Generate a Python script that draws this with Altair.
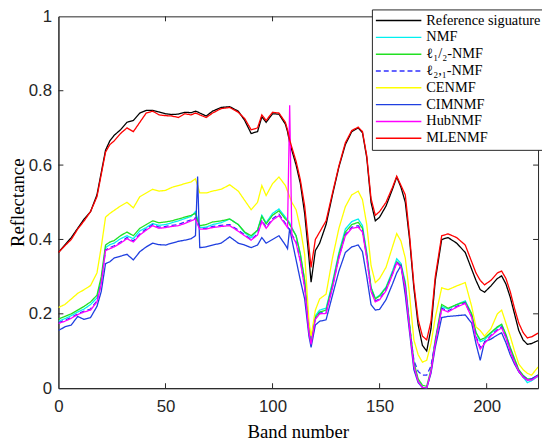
import altair as alt
import pandas as pd

bands = [0, 3, 6, 9, 12, 15, 18, 20, 22, 24,
         26, 29, 32, 35, 38, 41, 44, 47, 50, 53,
         56, 59, 62, 64, 65, 66, 69, 72, 76, 80,
         84, 87, 90, 93, 95, 97, 100, 103, 106, 107,
         108, 109, 111, 113, 115, 117, 118, 120, 122, 125,
         128, 131, 134, 137, 140, 142, 144, 146, 148, 150,
         153, 156, 158, 160, 162, 164, 166, 168, 170, 172,
         174, 176, 179, 182, 186, 190, 193, 195, 197, 199,
         202, 205, 207, 209, 211, 213, 215, 217, 219, 221,
         224]

reference = [0.365, 0.385, 0.405, 0.43, 0.455, 0.475, 0.52, 0.58, 0.64, 0.665,
             0.68, 0.695, 0.715, 0.72, 0.74, 0.747, 0.747, 0.743, 0.738, 0.736,
             0.737, 0.742, 0.741, 0.745, 0.743, 0.74, 0.732, 0.745, 0.755, 0.757,
             0.745, 0.72, 0.685, 0.69, 0.73, 0.715, 0.738, 0.737, 0.71, 0.69,
             0.66, 0.64, 0.6, 0.55, 0.47, 0.35, 0.285, 0.37, 0.39, 0.44,
             0.52, 0.595, 0.655, 0.69, 0.7, 0.687, 0.62, 0.5, 0.45, 0.46,
             0.49, 0.535, 0.568, 0.54, 0.5, 0.4, 0.27, 0.17, 0.115, 0.1,
             0.16, 0.29, 0.4, 0.405, 0.39, 0.365, 0.32, 0.29, 0.265, 0.258,
             0.275, 0.295, 0.302, 0.28, 0.245, 0.2, 0.155, 0.13, 0.118, 0.12,
             0.128]

nmf = [0.18, 0.187, 0.195, 0.205, 0.213, 0.225, 0.243, 0.29, 0.378, 0.386,
       0.39, 0.402, 0.41, 0.402, 0.423, 0.432, 0.443, 0.438, 0.44, 0.445,
       0.45, 0.456, 0.462, 0.475, 0.455, 0.432, 0.433, 0.44, 0.445, 0.455,
       0.44, 0.418, 0.405, 0.425, 0.465, 0.445, 0.47, 0.482, 0.46, 0.452,
       0.445, 0.432, 0.41, 0.36, 0.29, 0.16, 0.125, 0.195, 0.21, 0.215,
       0.285, 0.365, 0.428, 0.448, 0.455, 0.437, 0.365, 0.272, 0.242, 0.25,
       0.272, 0.315, 0.348, 0.335, 0.285, 0.17, 0.065, 0.02, 0.003, 0.0,
       0.045, 0.125, 0.22, 0.213, 0.225, 0.235, 0.2, 0.15, 0.125, 0.13,
       0.148, 0.163, 0.17, 0.142, 0.108, 0.075, 0.045, 0.03, 0.015, 0.02,
       0.032]

l12 = [0.186, 0.193, 0.2, 0.21, 0.22, 0.232, 0.25, 0.3, 0.385, 0.393,
       0.397, 0.41, 0.42, 0.41, 0.43, 0.44, 0.45, 0.445, 0.447, 0.45,
       0.455, 0.46, 0.465, 0.47, 0.45, 0.437, 0.44, 0.447, 0.45, 0.455,
       0.44, 0.42, 0.41, 0.425, 0.462, 0.442, 0.465, 0.477, 0.455, 0.45,
       0.44, 0.43, 0.41, 0.36, 0.29, 0.16, 0.122, 0.19, 0.205, 0.21,
       0.28, 0.36, 0.42, 0.44, 0.446, 0.43, 0.36, 0.27, 0.24, 0.248,
       0.27, 0.31, 0.34, 0.33, 0.28, 0.17, 0.07, 0.025, 0.008, 0.005,
       0.05, 0.13, 0.225, 0.215, 0.225, 0.232, 0.2, 0.15, 0.13, 0.135,
       0.15, 0.165, 0.172, 0.145, 0.11, 0.08, 0.05, 0.035, 0.025, 0.025,
       0.035]

l21 = [0.176, 0.183, 0.19, 0.2, 0.207, 0.213, 0.235, 0.283, 0.372, 0.378,
       0.383, 0.393, 0.405, 0.396, 0.415, 0.428, 0.44, 0.433, 0.435, 0.438,
       0.44, 0.447, 0.453, 0.458, 0.443, 0.43, 0.43, 0.435, 0.438, 0.44,
       0.425, 0.412, 0.4, 0.415, 0.452, 0.433, 0.456, 0.468, 0.443, 0.435,
       0.425, 0.414, 0.393, 0.343, 0.273, 0.152, 0.12, 0.187, 0.202, 0.204,
       0.273, 0.353, 0.413, 0.433, 0.437, 0.423, 0.353, 0.262, 0.235, 0.24,
       0.265, 0.308, 0.34, 0.327, 0.273, 0.165, 0.075, 0.045, 0.035, 0.035,
       0.06, 0.125, 0.215, 0.208, 0.22, 0.23, 0.192, 0.14, 0.11, 0.122,
       0.142, 0.158, 0.165, 0.138, 0.103, 0.072, 0.047, 0.032, 0.024, 0.024,
       0.035]

cenmf = [0.217, 0.225, 0.24, 0.255, 0.265, 0.276, 0.31, 0.38, 0.46, 0.47,
         0.478, 0.49, 0.5, 0.485, 0.515, 0.525, 0.535, 0.53, 0.532, 0.54,
         0.545, 0.55, 0.555, 0.563, 0.545, 0.525, 0.525, 0.53, 0.535, 0.547,
         0.53, 0.505, 0.48, 0.5, 0.545, 0.518, 0.55, 0.568, 0.545, 0.53,
         0.515, 0.5, 0.48, 0.43, 0.36, 0.18, 0.14, 0.21, 0.24, 0.253,
         0.35, 0.43, 0.488, 0.52, 0.53, 0.507, 0.44, 0.33, 0.284, 0.295,
         0.325, 0.38, 0.416, 0.395, 0.35, 0.25, 0.13, 0.09, 0.07, 0.075,
         0.12, 0.19, 0.27, 0.265, 0.275, 0.284, 0.22, 0.165, 0.155, 0.14,
         0.16, 0.2, 0.21, 0.175, 0.14, 0.1, 0.065, 0.05, 0.04, 0.035,
         0.057]

cimnmf = [0.155, 0.165, 0.17, 0.193, 0.185, 0.19, 0.22, 0.26, 0.335, 0.34,
          0.35, 0.355, 0.36, 0.345, 0.367, 0.38, 0.39, 0.386, 0.385, 0.39,
          0.395, 0.398, 0.402, 0.41, 0.569, 0.378, 0.38, 0.385, 0.39, 0.407,
          0.39, 0.385, 0.378, 0.385, 0.405, 0.39, 0.4, 0.41, 0.385, 0.375,
          0.43, 0.4, 0.345, 0.29, 0.24, 0.14, 0.11, 0.17, 0.18, 0.184,
          0.25, 0.315, 0.365, 0.38, 0.385, 0.367, 0.3, 0.225, 0.21, 0.212,
          0.238, 0.28, 0.31, 0.33, 0.25, 0.15, 0.05, 0.015, 0.002, 0.0,
          0.04, 0.11, 0.19, 0.193, 0.195, 0.197, 0.175, 0.12, 0.075, 0.125,
          0.132, 0.143, 0.149, 0.122, 0.09, 0.065, 0.044, 0.03, 0.022, 0.025,
          0.035]

hubnmf = [0.174, 0.18, 0.188, 0.198, 0.205, 0.21, 0.232, 0.28, 0.37, 0.375,
          0.38, 0.39, 0.402, 0.393, 0.412, 0.425, 0.437, 0.43, 0.432, 0.435,
          0.437, 0.443, 0.45, 0.455, 0.44, 0.428, 0.428, 0.432, 0.435, 0.437,
          0.422, 0.41, 0.398, 0.412, 0.448, 0.43, 0.452, 0.464, 0.44, 0.432,
          0.761, 0.411, 0.39, 0.34, 0.27, 0.15, 0.118, 0.185, 0.2, 0.201,
          0.27, 0.35, 0.41, 0.43, 0.433, 0.42, 0.35, 0.26, 0.232, 0.238,
          0.262, 0.305, 0.337, 0.325, 0.27, 0.16, 0.06, 0.018, 0.002, 0.0,
          0.045, 0.12, 0.212, 0.205, 0.218, 0.228, 0.19, 0.135, 0.105, 0.12,
          0.14, 0.155, 0.162, 0.135, 0.1, 0.07, 0.045, 0.03, 0.022, 0.022,
          0.033]

mlenmf = [0.365, 0.383, 0.4, 0.428, 0.45, 0.475, 0.515, 0.575, 0.635, 0.655,
          0.665, 0.685, 0.7, 0.69, 0.715, 0.74, 0.745, 0.735, 0.733, 0.732,
          0.728, 0.738, 0.735, 0.74, 0.738, 0.735, 0.728, 0.74, 0.752, 0.755,
          0.742, 0.725, 0.695, 0.7, 0.735, 0.72, 0.742, 0.74, 0.715, 0.695,
          0.668, 0.648, 0.61, 0.56, 0.49, 0.38, 0.325, 0.4, 0.42, 0.45,
          0.525, 0.598, 0.66, 0.693, 0.702, 0.69, 0.625, 0.51, 0.465, 0.475,
          0.5, 0.54, 0.57, 0.545, 0.52, 0.41, 0.28, 0.185, 0.14, 0.13,
          0.18, 0.3, 0.41, 0.415, 0.405, 0.385, 0.34, 0.31, 0.29, 0.278,
          0.29, 0.31, 0.315, 0.295, 0.26, 0.215, 0.175, 0.15, 0.135, 0.138,
          0.148]

names = ["Reference siguature", "NMF", "ℓ₁/₂-NMF", "ℓ₂,₁-NMF",
         "CENMF", "CIMNMF", "HubNMF", "MLENMF"]
series = [reference, nmf, l12, l21, cenmf, cimnmf, hubnmf, mlenmf]
colors = ["#000000", "#00f0f0", "#22e022", "#3030ff",
          "#ffff00", "#1f3fe0", "#ff00ff", "#ff0000"]
dashes = [[1, 0], [1, 0], [1, 0], [5, 3], [1, 0], [1, 0], [1, 0], [1, 0]]

x_ticks = [0, 50, 100, 150, 200]
y_ticks = [0, 0.2, 0.4, 0.6, 0.8, 1]
x_title = "Band number"
y_title = "Reflectance"

for s in series:
    assert len(s) == len(bands)

rows = []
for name, vals in zip(names, series):
    for b, v in zip(bands, vals):
        rows.append({"band": b, "value": v, "series": name})
df = pd.DataFrame(rows)

W, H = 485, 376
xscale = alt.Scale(domain=[0, 224], nice=False, zero=False)
yscale = alt.Scale(domain=[0, 1], nice=False)

legend_props = dict(
    title=None, orient="none", legendX=317, legendY=-7,
    symbolType="stroke", symbolSize=2116, symbolStrokeWidth=1.5,
    clipHeight=16.5, rowPadding=0, padding=3, labelOffset=4,
    labelFont="Liberation Serif", labelFontSize=14.5, labelColor="#000000",
    strokeColor="#262626", fillColor="white", labelLimit=300,
)
color_enc = alt.Color("series:N", scale=alt.Scale(domain=names, range=colors),
                      legend=alt.Legend(**legend_props))
dash_enc = alt.StrokeDash("series:N", scale=alt.Scale(domain=names, range=dashes),
                          legend=alt.Legend(**legend_props))

title_style = dict(titleFont="Liberation Serif", titleFontSize=19,
                   titleFontWeight="normal", titleColor="#000000")
x_axis = alt.Axis(values=x_ticks, title=None, labelPadding=11)
y_axis = alt.Axis(values=y_ticks, title=y_title, format="~g",
                  labelPadding=7, titlePadding=1, **title_style)

X = alt.X("band:Q", scale=xscale, axis=x_axis)
Y = alt.Y("value:Q", scale=yscale, axis=y_axis)

layers = []
for name in names:
    layers.append(
        alt.Chart(df).transform_filter(alt.datum.series == name)
        .mark_line(strokeWidth=1.3, clip=True)
        .encode(x=X, y=Y, color=color_enc, strokeDash=dash_enc)
    )

xt = pd.DataFrame({"band": x_ticks[1:]})
yt = pd.DataFrame({"value": y_ticks[1:-1]})
tick_color = "#262626"
xt_bottom = alt.Chart(xt).mark_rule(color=tick_color, strokeWidth=1).encode(
    x=X, y=alt.value(H), y2=alt.value(H - 5))
xt_top = alt.Chart(xt).mark_rule(color=tick_color, strokeWidth=1).encode(
    x=X, y=alt.value(0), y2=alt.value(5))
yt_left = alt.Chart(yt).mark_rule(color=tick_color, strokeWidth=1).encode(
    y=Y, x=alt.value(0), x2=alt.value(5))
yt_right = alt.Chart(yt).mark_rule(color=tick_color, strokeWidth=1).encode(
    y=Y, x=alt.value(W), x2=alt.value(W - 5))

chart = alt.layer(*layers, xt_bottom, xt_top, yt_left, yt_right).properties(
    width=W, height=H,
    autosize=alt.AutoSizeParams(type="none"),
    padding={"left": 51, "top": 6, "right": 4, "bottom": 55},
    background="white",
    title=alt.TitleParams(x_title, orient="bottom", anchor="middle",
                          font="Liberation Serif", fontSize=19,
                          fontWeight="normal", color="#000000", offset=8),
).configure_view(
    stroke="#262626", strokeWidth=1
).configure_axis(
    ticks=False, grid=False, labelFlush=False, labelOverlap=False,
    labelFont="Liberation Sans", labelFontSize=17, labelColor="#262626",
    domainColor="#262626", domainWidth=1, **title_style
)

chart.save("out.html", embed_options={"renderer": "svg", "actions": False})
